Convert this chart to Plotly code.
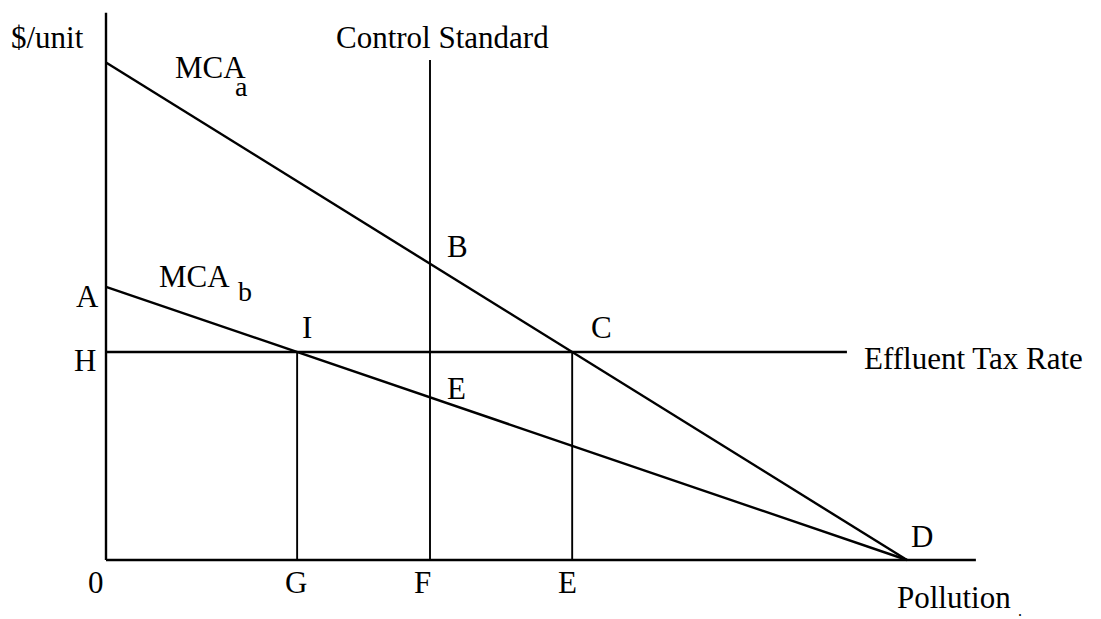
import plotly.graph_objects as go

# diagram values (abstract units: pollution 0-10, $/unit 0-10)
mca_a_intercept = 10.0   # MCA_a at zero pollution
mca_b_intercept = 5.49   # point A
tax_rate = 4.18          # point H, effluent tax rate
choke = 10.0             # point D, where both MCA curves hit zero
standard = 4.045         # point F, control standard
y_top = 11.0
x_end = 10.86
tax_end = 9.25
standard_top = 10.05

axis_labels = ["0", "G", "F", "E"]

# intersections
G = choke * (1 - tax_rate / mca_b_intercept)
E = choke * (1 - tax_rate / mca_a_intercept)
B = mca_a_intercept * (1 - standard / choke)
E_pt = mca_b_intercept * (1 - standard / choke)

FONT = "Liberation Serif, Times New Roman, serif"
BLK = "black"
FS = 31

fig = go.Figure()

def seg(x, y, w=2.4):
    fig.add_trace(go.Scatter(x=x, y=y, mode="lines", line=dict(color=BLK, width=w),
                             hoverinfo="skip", showlegend=False))

seg([0, 0], [0, y_top])
seg([0, x_end], [0, 0])
seg([0, choke], [mca_a_intercept, 0])
seg([0, choke], [mca_b_intercept, 0])
seg([0, tax_end], [tax_rate, tax_rate])
seg([standard, standard], [0, standard_top], 1.9)
seg([G, G], [0, tax_rate], 1.9)
seg([E, E], [0, tax_rate], 1.9)

def lab(text, x, y, dx=0, dy=0, xa="center", size=FS):
    fig.add_annotation(x=x, y=y, text=text, showarrow=False, xshift=dx, yshift=dy,
                       xanchor=xa, yanchor="middle",
                       font=dict(family=FONT, size=size, color=BLK))

# axis labels
for name, xv, dx in zip(axis_labels, [0, G, standard, E], [-10, -1, -8, -5]):
    lab(name, xv, 0, dx, -22)

lab("$/unit", 0, y_top, -20, -25, xa="right")
lab("Control Standard", standard, standard_top, -96, 23, xa="left")
lab("MCA", 0, mca_a_intercept, 67, -5, xa="left")
lab("a", 0, mca_a_intercept, 135, -24, xa="center", size=28)
lab("MCA", 0, mca_b_intercept, 51, 10, xa="left")
lab("b", 0, mca_b_intercept, 139, -5, xa="center", size=28)
lab("A", 0, mca_b_intercept, -19, -10)
lab("H", 0, tax_rate, -21, -8)
lab("I", G, tax_rate, 10, 25)
lab("B", standard, B, 27, 17)
lab("C", E, tax_rate, 29, 25)
lab("E", standard, E_pt, 26, 9)
lab("D", choke, 0, 15, 24)
lab("Effluent Tax Rate", tax_end, tax_rate, 15, -6, xa="left")
lab("Pollution", choke, 0, -12, -37, xa="left")
lab(".", choke, 0, 113, -50, size=16)

# page body has an 8px margin, so the plot area is offset by 8px
fig.update_layout(
    width=1101, height=619,
    margin=dict(l=0, r=0, t=0, b=0),
    paper_bgcolor="white", plot_bgcolor="white",
    xaxis=dict(range=[-98 / 80.1, 1003 / 80.1], visible=False, fixedrange=True),
    yaxis=dict(range=[-67 / 49.75, 552 / 49.75], visible=False, fixedrange=True),
    showlegend=False,
)

fig.write_html("out.html")
